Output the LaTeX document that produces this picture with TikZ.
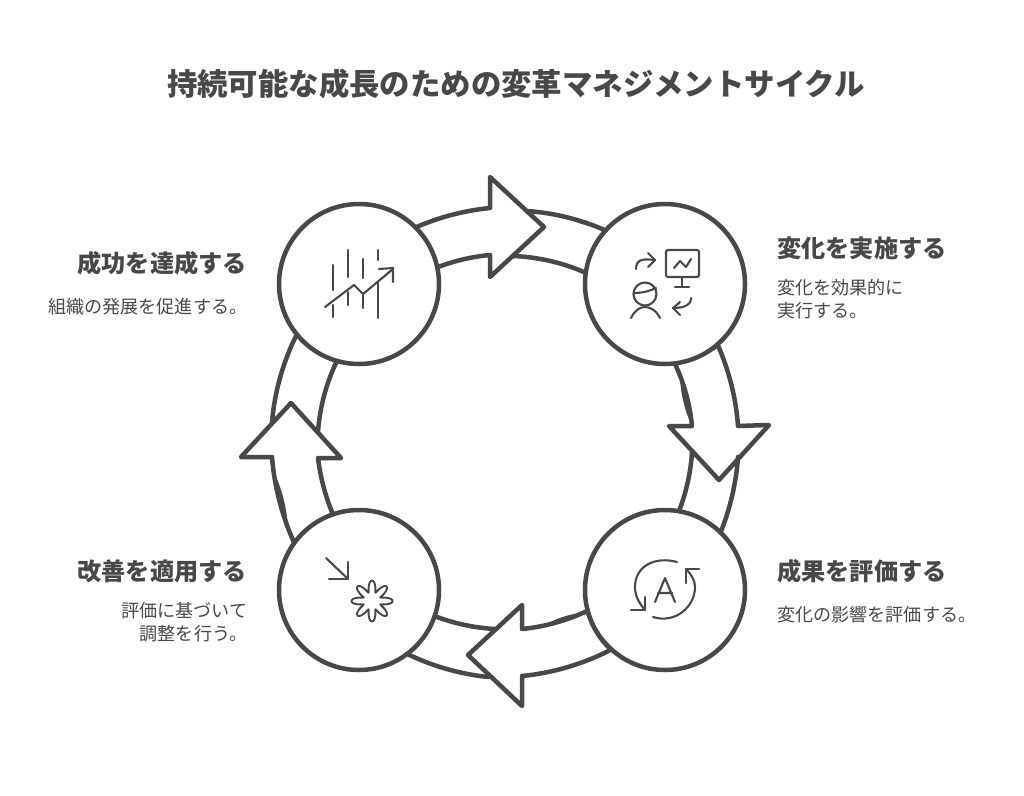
\documentclass[tikz,border=0pt]{standalone}
\usepackage{fontspec}
\setmainfont{Noto Sans CJK JP}
\usepackage{xcolor}
\usepackage{tikz}
\definecolor{ink}{HTML}{484848}
\tikzstyle{stepcircle} = [circle, minimum size=160pt, inner sep=0pt, outer sep=0pt, draw=ink, line width=4.5pt, fill=white]
\tikzstyle{ring} = [draw=ink, line width=4.5pt, line join=round, line cap=round, looseness=0.85]
\tikzstyle{heavy} = [fill=ink, looseness=0.85]
\tikzstyle{icon} = [draw=ink, line width=2.1pt, line join=round, line cap=round]
\tikzstyle{maintitle} = [text=ink, font=\fontsize{30.4}{36}\selectfont\bfseries]
\tikzstyle{heading} = [text=ink, inner sep=0pt, font=\fontsize{24.2}{30}\selectfont\bfseries]
\tikzstyle{body} = [text=ink, inner sep=0pt, font=\fontsize{18.1}{23}\selectfont]

\begin{document}
\begin{tikzpicture}[x=1pt, y=-1pt, node distance=306pt]
    \useasboundingbox (0,0) rectangle (1024,795);
    \node (title) [maintitle] at (516,84) {持続可能な成長のための変革マネジメントサイクル};

    \node (achieve) [stepcircle] at (359,284) {};
    \node (implement) [stepcircle, right of=achieve] {};
    \node (evaluate) [stepcircle, below of=implement] {};
    \node (improve) [stepcircle, left of=evaluate] {};

    \coordinate (topout) at (527,211);
    \coordinate (topin) at (513,256);
    \coordinate (rightout) at (738,457);
    \coordinate (rightin) at (692,452);
    \coordinate (bottomout) at (488,677);
    \coordinate (bottomin) at (495,629);
    \coordinate (leftout) at (272,422);
    \coordinate (leftin) at (318,432);

    % block arrows round the ring
    \draw [ring] (achieve.45) to[bend left=9] (490,208) -- (490,177) -- (544,227) -- (490,277) -- (490,255) to[bend right=8] (achieve.12);
    \draw [ring] (topout) to[bend left=10] (implement.138);
    \draw [ring] (topin) to[bend left=11] (implement.172);

    \draw [ring] (implement.-49) to[bend left=10] (738,426) -- (769,425) -- (719,480) -- (669,426) -- (692,426) to[bend right=10] (implement.-83);
    \draw [ring] (rightout) to[bend left=9] (evaluate.46);
    \draw [ring] (rightin) to[bend left=9] (evaluate.80);

    \draw [ring] (evaluate.195) to[bend left=10] (522,629) -- (522,605) -- (468,655) -- (522,706) -- (522,676) to[bend right=11] (evaluate.228);
    \draw [ring] (bottomin) to[bend left=9] (improve.-19);
    \draw [ring] (bottomout) to[bend left=10] (improve.-53);

    \draw [ring] (improve.144) to[bend left=10] (272,457) -- (241,457) -- (291,403) -- (341,458) -- (318,458) to[bend right=8] (improve.109);
    \draw [ring] (leftout) to[bend left=11] (achieve.-141);
    \draw [ring] (leftin) to[bend left=11] (achieve.-106);

    % heavier parts of the strokes
    \fill [heavy] (560,214) to[bend left=5] (603,228) to[bend left=14] (560,214);
    \fill [heavy] (680,378) to[bend left=4] (691,424) to[bend left=11] (680,378);
    \fill [heavy] (288,528) to[bend left=4] (274,472) to[bend left=11] (288,528);
    \fill [heavy] (580,613) to[bend left=5] (543,626) to[bend left=12] (580,613);
    \fill [heavy] (720,346) to[bend left=15] (677,364) -- cycle;
    \fill [heavy] (681,511) to[bend left=15] (721,530) -- cycle;
    \fill [heavy] (608,650) to[bend left=15] (586,613) -- cycle;

    % icon in achieve
    \foreach \barx/\upa/\upb/\lowa/\lowb in {333/265/290/305/317, 348/250/277/292/305, 363/259/278/295/308, 378/250/260/283/318}
        \draw [icon] (\barx,\upa) -- (\barx,\upb) (\barx,\lowa) -- (\barx,\lowb);
    \draw [icon] (325,307) -- (354,285) -- (363,294) -- (393,269);
    \draw [icon] (379,269) -- (393,268) -- (393,282);

    % icon in implement
    \draw [icon, rounded corners=2pt] (666,250) rectangle (699,277);
    \draw [icon] (682,277) -- (682,287) (675,287) -- (689,287);
    \draw [icon] (674,268) -- (680,261) -- (686,267) -- (691,259);
    \draw [icon] (636,269) .. controls (636,258) and (645,259) .. (655,260);
    \draw [icon] (648,253) -- (655,260) -- (648,267);
    \draw [icon] (645,294) circle (11.5);
    \draw [icon] (635,293) .. controls (642,293) and (650,291) .. (656,288);
    \draw [icon] (631,318) .. controls (635,310) and (640,307) .. (645,307) .. controls (650,307) and (656,310) .. (660,318);
    \draw [icon] (691,298) .. controls (691,305) and (684,308) .. (673,308);
    \draw [icon] (680,302) -- (673,308) -- (680,315);

    % icon in evaluate
    \draw [icon] (655,602) -- (665,578) -- (675,602) (658,593) -- (672,593);
    \draw [icon] (677,562) .. controls (655,556) and (635,566) .. (635,587) .. controls (635,597) and (640,604) .. (645,610);
    \draw [icon] (631,610) -- (645,610) -- (645,597);
    \draw [icon] (653,617) .. controls (675,624) and (695,607) .. (695,587) .. controls (695,580) and (691,574) .. (686,569);
    \draw [icon] (699,569) -- (686,569) -- (686,583);

    % icon in improve
    \draw [icon] (326,558) -- (348,579);
    \draw [icon] (348,562) -- (348,579) -- (329,579);
    \draw [icon, line width=1.9pt] plot[domain=0:360, samples=241] ({372+(9+11.5*(abs(cos(4*\x))+0.001)^1.5)*cos(\x)}, {601+(9+11.5*(abs(cos(4*\x))+0.001)^1.5)*sin(\x)});

    \node (achievehead) [heading, anchor=east] at (247,263) {成功を達成する};
    \node (achievetext) [body, anchor=east] at (247.5,307) {組織の発展を促進する。};
    \node (implementhead) [heading, anchor=west] at (777,248) {変化を実施する};
    \node (implementtext) [body, anchor=north west, align=left] at (777,279.5) {変化を効果的に\\実行する。};
    \node (evaluatehead) [heading, anchor=west] at (777,571) {成果を評価する};
    \node (evaluatetext) [body, anchor=west] at (777,615) {変化の影響を評価する。};
    \node (improvehead) [heading, anchor=east] at (247,571) {改善を適用する};
    \node (improvetext) [body, anchor=north east, align=right] at (247.5,602.5) {評価に基づいて\\調整を行う。};
\end{tikzpicture}
\end{document}
